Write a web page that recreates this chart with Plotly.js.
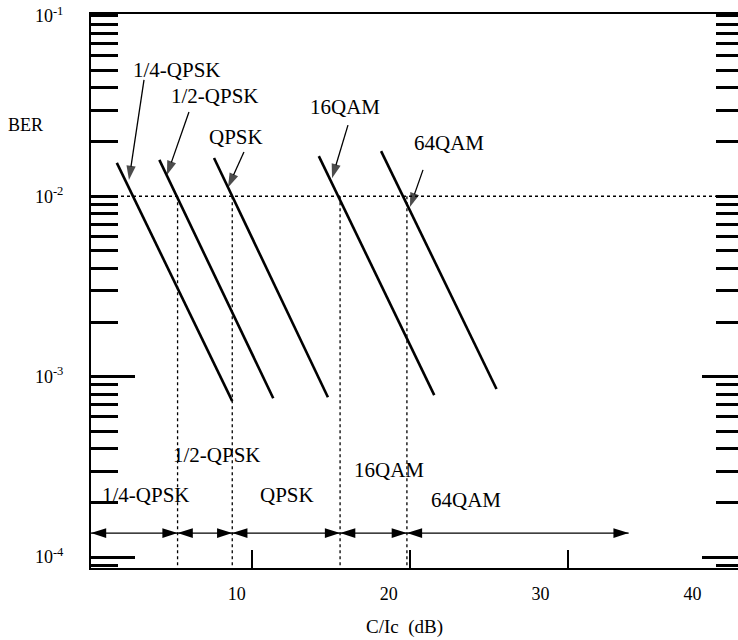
<!DOCTYPE html>
<html>
<head>
<meta charset="utf-8">
<script src="https://cdn.plot.ly/plotly-3.0.1.min.js"></script>
<style>html,body{margin:0;padding:0;background:#fff;}#chart{width:738px;height:640px;}</style>
</head>
<body>
<div id="chart"></div>
<script>
// ---- data ----
const schemes = ['1/4-QPSK', '1/2-QPSK', 'QPSK', '16QAM', '64QAM'];
// BER curves (straight lines on the semi-log plot): C/Ic (dB) and BER at both ends
const curveX = [[2.1, 9.7], [4.9, 12.4], [8.5, 16.0], [15.4, 23.0], [19.5, 27.1]];
const curveBER = [[1.53e-2, 7.33e-4], [1.59e-2, 7.6e-4], [1.63e-2, 7.7e-4], [1.67e-2, 7.9e-4], [1.78e-2, 8.55e-4]];
// required BER and switching thresholds (C/Ic, dB)
const targetBER = 1e-2;
const thresholds = [6.1, 9.7, 16.8, 21.2];
const regionEnd = 35.8;          // end of the 64QAM arrow
const arrowRowBER = 1.36e-4;     // level of the region arrows
// curve labels (centre) and their pointer arrows (tail -> tip)
const curveLabelX = [6.06, 8.56, 9.95, 17.12, 23.97];
const curveLabelBER = [5.01e-2, 3.60e-2, 2.13e-2, 3.13e-2, 1.97e-2];
const pointerTailX = [3.89, 6.85, 10.47, 17.32, 22.26];
const pointerTailBER = [4.41e-2, 2.93e-2, 1.76e-2, 2.48e-2, 1.40e-2];
const pointerTipX = [2.90, 5.40, 9.42, 16.27, 21.40];
const pointerTipBER = [1.23e-2, 1.31e-2, 1.12e-2, 1.26e-2, 8.71e-3];
// region labels
const regionLabelX = [4.02, 8.70, 13.30, 20.02, 25.09];
const regionLabelBER = [2.21e-4, 3.68e-4, 2.21e-4, 3.04e-4, 2.07e-4];
// axes
const xTickVals = [10, 20, 30, 40];
const xTickText = ['10', '20', '30', '40'];
const xTickMarks = [11, 21.4, 31.8];   // inner tick marks as printed
const yTickVals = [1e-4, 1e-3, 1e-2, 1e-1];
const yTickText = ['10<sup>-4</sup>', '10<sup>-3</sup>', '10<sup>-2</sup>', '10<sup>-1</sup>'];
const yMajorMarks = [1e-4, 1e-3];
const xMin = 0.4, xMax = 43.0;
const yLogRange = [-4.06, -0.99];

// ---- traces ----
const traces = [];
for (let i = 0; i < schemes.length; i++) {
  traces.push({x: curveX[i], y: curveBER[i], type: 'scatter', mode: 'lines', name: schemes[i],
    line: {color: '#000', width: 2.6}, showlegend: false, hoverinfo: 'skip'});
}
// horizontal dotted line at required BER
traces.push({x: [xMin, xMax], y: [targetBER, targetBER], mode: 'lines', showlegend: false, hoverinfo: 'skip',
  line: {color: '#000', width: 1.3, dash: 'dot'}});
// vertical dotted lines at thresholds
const yBottom = Math.pow(10, yLogRange[0]);
thresholds.forEach(t => {
  traces.push({x: [t, t], y: [targetBER, yBottom], mode: 'lines', showlegend: false, hoverinfo: 'skip',
    line: {color: '#000', width: 1.3, dash: 'dot'}});
});
// pointer arrows from labels to curves
for (let i = 0; i < schemes.length; i++) {
  traces.push({x: [pointerTailX[i], pointerTipX[i]], y: [pointerTailBER[i], pointerTipBER[i]],
    mode: 'lines+markers', showlegend: false, hoverinfo: 'skip',
    line: {color: '#000', width: 1.3},
    marker: {symbol: 'arrow', size: [0, 15], angleref: 'previous', color: '#000', line: {width: 0}}});
}
// region arrows (double headed)
const bounds = [xMin].concat(thresholds, [regionEnd]);
for (let i = 0; i < bounds.length - 1; i++) {
  traces.push({x: [bounds[i], bounds[i + 1]], y: [arrowRowBER, arrowRowBER],
    mode: 'lines+markers', showlegend: false, hoverinfo: 'skip',
    line: {color: '#000', width: 1.3},
    marker: {symbol: 'arrow', size: 16, angle: [-90, 90], color: '#000', line: {width: 0}}});
}
// scaffold traces for extra tick axes
traces.push({x: [], y: [], xaxis: 'x2', yaxis: 'y2', mode: 'markers', showlegend: false, hoverinfo: 'skip'});
traces.push({x: [], y: [], xaxis: 'x', yaxis: 'y3', mode: 'markers', showlegend: false, hoverinfo: 'skip'});

// ---- annotations (texts) ----
const font = {family: 'Liberation Serif, Times New Roman, serif', size: 21, color: '#000'};
const ann = [];
for (let i = 0; i < schemes.length; i++) {
  ann.push({x: curveLabelX[i], y: Math.log10(curveLabelBER[i]), xref: 'x', yref: 'y', text: schemes[i],
    showarrow: false, font: font, xanchor: 'center', yanchor: 'middle'});
  ann.push({x: regionLabelX[i], y: Math.log10(regionLabelBER[i]), xref: 'x', yref: 'y', text: schemes[i],
    showarrow: false, font: font, xanchor: 'center', yanchor: 'middle'});
}
ann.push({x: -0.102, y: 0.80, xref: 'paper', yref: 'paper', text: 'BER', showarrow: false,
  xanchor: 'center', yanchor: 'middle', font: {family: font.family, size: 18, color: '#000'}});
ann.push({x: 0.485, y: -0.1065, xref: 'paper', yref: 'paper', text: 'C/Ic\u00a0\u00a0(dB)', showarrow: false,
  xanchor: 'center', yanchor: 'middle', font: {family: font.family, size: 19, color: '#000'}});

const tickFont = {family: font.family, size: 18, color: '#000'};
const layout = {
  width: 738, height: 640,
  margin: {l: 91, r: 0, t: 14, b: 72},
  paper_bgcolor: '#fff', plot_bgcolor: '#fff',
  showlegend: false,
  xaxis: {range: [xMin, xMax], showline: true, linewidth: 2, linecolor: '#000', mirror: true,
    ticks: '', tickvals: xTickVals, ticktext: xTickText, tickfont: tickFont, ticklabelstandoff: 8,
    showgrid: false, zeroline: false},
  xaxis2: {range: [xMin, xMax], overlaying: 'x', side: 'bottom', ticks: 'inside', ticklen: 18, tickwidth: 2.5,
    tickcolor: '#000', tickvals: xTickMarks, showticklabels: false, showline: false, showgrid: false, zeroline: false},
  yaxis: {type: 'log', range: yLogRange, showline: true, linewidth: 2, linecolor: '#000',
    ticks: '', tickvals: yTickVals, ticktext: yTickText, tickfont: tickFont, ticklabelstandoff: 22,
    showgrid: false, zeroline: false,
    minor: {ticks: 'inside', ticklen: 27, tickwidth: 3, tickcolor: '#000', dtick: 'D1', showgrid: false}},
  yaxis3: {type: 'log', range: yLogRange, overlaying: 'y', side: 'left', ticks: 'inside', ticklen: 44,
    tickwidth: 3, tickcolor: '#000', tickvals: yMajorMarks, showticklabels: false, showline: false,
    showgrid: false, zeroline: false},
  yaxis2: {type: 'log', range: yLogRange, overlaying: 'y', side: 'right', ticks: 'inside', ticklen: 36,
    tickwidth: 3, tickcolor: '#000', tickvals: yMajorMarks, showticklabels: false, showline: false,
    showgrid: false, zeroline: false,
    minor: {ticks: 'inside', ticklen: 22, tickwidth: 3, tickcolor: '#000', dtick: 'D1', showgrid: false}},
  annotations: ann
};
Plotly.newPlot('chart', traces, layout, {staticPlot: true, displayModeBar: false});
</script>
</body>
</html>
